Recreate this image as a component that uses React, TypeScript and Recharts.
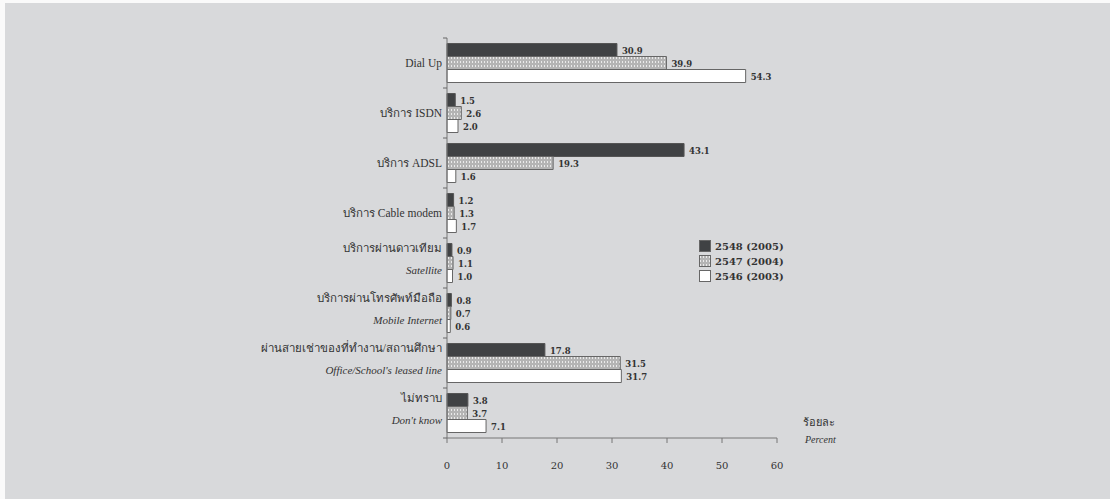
import React from "react";
import { BarChart, Bar, XAxis, YAxis, LabelList } from "recharts";

// access types, Thai line + optional English line
const categories = ["Dial Up", "บริการ ISDN", "บริการ ADSL", "บริการ Cable modem", "บริการผ่านดาวเทียม", "บริการผ่านโทรศัพท์มือถือ", "ผ่านสายเช่าของที่ทำงาน/สถานศึกษา", "ไม่ทราบ"];
const subtitles = ["", "", "", "", "Satellite", "Mobile Internet", "Office/School's leased line", "Don't know"];

const y2548 = [30.9, 1.5, 43.1, 1.2, 0.9, 0.8, 17.8, 3.8];
const y2547 = [39.9, 2.6, 19.3, 1.3, 1.1, 0.7, 31.5, 3.7];
const y2546 = [54.3, 2.0, 1.6, 1.7, 1.0, 0.6, 31.7, 7.1];

const seriesNames = ["2548 (2005)", "2547 (2004)", "2546 (2003)"];
const xTicks = [0, 10, 20, 30, 40, 50, 60];

const data = categories.map((c, i) => ({
  name: c,
  sub: subtitles[i],
  a: y2548[i],
  b: y2547[i],
  c: y2546[i],
}));

const W = 1110;
const H = 499;
const TOP = 38;
const X_AXIS_H = 40;
const BOTTOM = 21;
const AXIS_X = 447;
const RIGHT = 333;
const PLOT_H = H - TOP - BOTTOM - X_AXIS_H;
const BAND = PLOT_H / categories.length;

const serif = "'Liberation Serif', 'DejaVu Serif', serif";
const ink = "#333";

const fills = ["#404244", "url(#hatch)", "#ffffff"];

function CategoryTick(props: any) {
  const { y, payload, index } = props;
  const sub = subtitles[index];
  const tx = AXIS_X - 5;
  return (
    <g>
      <line x1={AXIS_X - 4} x2={AXIS_X} y1={y - BAND / 2} y2={y - BAND / 2} stroke="#666" />
      {index === categories.length - 1 && (
        <line x1={AXIS_X - 4} x2={AXIS_X} y1={y + BAND / 2} y2={y + BAND / 2} stroke="#666" />
      )}
      {sub ? (
        <>
          <text x={tx} y={y - 11} textAnchor="end" fontFamily={serif} fontSize={11.5} fill={ink}>
            {payload.value}
          </text>
          <text x={tx} y={y + 11} textAnchor="end" fontFamily={serif} fontStyle="italic" fontSize={11} fill={ink}>
            {sub}
          </text>
        </>
      ) : (
        <text x={tx} y={y + 4} textAnchor="end" fontFamily={serif} fontSize={11.5} fill={ink}>
          {payload.value}
        </text>
      )}
    </g>
  );
}

function ValueLabel(props: any) {
  const { x, y, width, height, value } = props;
  return (
    <text
      x={x + width + 5}
      y={y + height / 2 + 4}
      fontFamily="'DejaVu Serif', serif"
      fontWeight="bold"
      fontSize={8.5}
      fill={ink}
    >
      {Number(value).toFixed(1)}
    </text>
  );
}

function LegendBox() {
  return (
    <div style={{ fontFamily: "'DejaVu Serif', serif", fontSize: 10, fontWeight: "bold", color: ink }}>
      {seriesNames.map((n, i) => (
        <div key={n} style={{ display: "flex", alignItems: "center", height: 15 }}>
          <svg width={13} height={13} style={{ marginRight: 3 }}>
            <rect x={0.5} y={0.5} width={11} height={11} fill={fills[i]} stroke="#666" />
          </svg>
          <span>{n}</span>
        </div>
      ))}
    </div>
  );
}

export default function App() {
  return (
    <div style={{ position: "absolute", left: 0, top: 0, width: W, height: H, background: "#fafafa" }}>
      <div style={{ position: "absolute", left: 5, top: 3, width: W - 5, height: H - 3, background: "#d8d9db" }} />
      <div style={{ position: "absolute", left: 0, top: 0 }}>
        <BarChart
          width={W}
          height={H}
          data={data}
          layout="vertical"
          margin={{ top: TOP, bottom: BOTTOM, left: 0, right: RIGHT }}
          barCategoryGap="11%"
          barGap={0}
        >
          <defs>
            <pattern id="hatch" width={3} height={4} patternUnits="userSpaceOnUse">
              <rect width={3} height={4} fill="#b4b4b4" />
              <rect x={1} y={1} width={1} height={2} fill="#eaeaea" />
            </pattern>
          </defs>
          <XAxis
            type="number"
            domain={[0, 60]}
            ticks={xTicks}
            height={X_AXIS_H}
            stroke="#777"
            tickSize={5}
            tickMargin={19}
            tick={{ fill: ink, fontFamily: "'DejaVu Serif', serif", fontSize: 10 }}
          />
          <YAxis
            type="category"
            dataKey="name"
            width={AXIS_X}
            stroke="#777"
            tickLine={false}
            tick={<CategoryTick />}
            interval={0}
          />
          <Bar dataKey="a" name={seriesNames[0]} fill={fills[0]} stroke="#555" isAnimationActive={false}>
            <LabelList dataKey="a" content={<ValueLabel />} />
          </Bar>
          <Bar dataKey="b" name={seriesNames[1]} fill={fills[1]} stroke="#666" isAnimationActive={false}>
            <LabelList dataKey="b" content={<ValueLabel />} />
          </Bar>
          <Bar dataKey="c" name={seriesNames[2]} fill={fills[2]} stroke="#666" isAnimationActive={false}>
            <LabelList dataKey="c" content={<ValueLabel />} />
          </Bar>
        </BarChart>
      </div>
      <div style={{ position: "absolute", left: 699, top: 239 }}>
        <LegendBox />
      </div>
      <div style={{ position: "absolute", left: 803, top: 413, fontFamily: serif, fontSize: 11, color: ink }}>ร้อยละ</div>
      <div style={{ position: "absolute", left: 805, top: 434, fontFamily: serif, fontSize: 10, fontStyle: "italic", color: ink }}>
        Percent
      </div>
    </div>
  );
}
